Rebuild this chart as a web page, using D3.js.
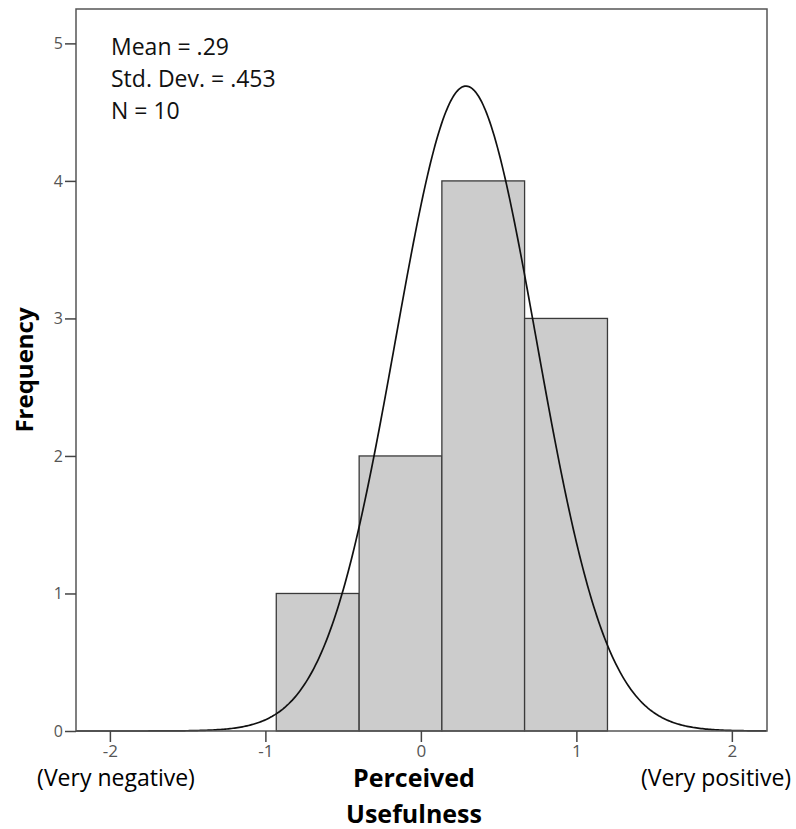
<!DOCTYPE html>
<html>
<head>
<meta charset="utf-8">
<script src="https://cdn.jsdelivr.net/npm/d3@7"></script>
<style>
	body { margin: 0; background: #fff; }
	svg text { font-family: "Open Sans", Lato, sans-serif; }
</style>
</head>
<body>
<svg id="chart" width="796" height="829"></svg>
<script>
// histogram bins (lower / upper edge) and their counts
var binLow = [-0.93, -0.397, 0.135, 0.667];
var binHigh = [-0.397, 0.135, 0.667, 1.2];
var counts = [1, 2, 4, 3];

var xTicks = [-2, -1, 0, 1, 2];
var yTicks = [0, 1, 2, 3, 4, 5];

// fitted normal curve parameters (from the stats box)
var mean = 0.29,
	stdDev = 0.453,
	nCases = 10;

var statLines = ["Mean = .29", "Std. Dev. = .453", "N = 10"];

var margin = { top: 9, left: 76, right: 29, bottom: 98 },
	width = 796 - margin.left - margin.right,
	height = 829 - margin.top - margin.bottom;

var svg = d3.select("#chart");
var g = svg.append("g")
	.attr("transform", "translate(" + margin.left + "," + margin.top + ")");

var x = d3.scaleLinear()
	.domain([-2.218, 2.226])
	.range([0, width]);

var y = d3.scaleLinear()
	.domain([0, 5.25])
	.range([height, 0]);

var bins = counts.map(function(c, i) {
	return { x0: binLow[i], x1: binHigh[i], count: c };
});

g.selectAll(".bar")
	.data(bins)
	.enter().append("rect")
	.attr("class", "bar")
	.attr("x", function(d) { return x(d.x0); })
	.attr("y", function(d) { return y(d.count); })
	.attr("width", function(d) { return x(d.x1) - x(d.x0); })
	.attr("height", function(d) { return y(0) - y(d.count); })
	.attr("fill", "#cccccc")
	.attr("stroke", "#3a3a3a")
	.attr("stroke-width", 1.3);

// normal curve scaled to the histogram (N * bin width * density)
var binWidth = d3.mean(bins, function(d) { return d.x1 - d.x0; });
var curveData = d3.range(x.domain()[0], x.domain()[1] + 0.001, 0.01).map(function(v) {
	var z = (v - mean) / stdDev;
	return [v, nCases * binWidth * Math.exp(-0.5 * z * z) / (stdDev * Math.sqrt(2 * Math.PI))];
});

g.append("path")
	.datum(curveData)
	.attr("fill", "none")
	.attr("stroke", "#111")
	.attr("stroke-width", 1.7)
	.attr("d", d3.line()
		.x(function(d) { return x(d[0]); })
		.y(function(d) { return y(d[1]); }));

// frame
g.append("rect")
	.attr("width", width)
	.attr("height", height)
	.attr("fill", "none")
	.attr("stroke", "#555")
	.attr("stroke-width", 1.5);

var yAxis = d3.axisLeft(y)
	.tickValues(yTicks)
	.tickSize(11)
	.tickPadding(2)
	.tickFormat(function(d) { return String(d); });

var yG = g.append("g").call(yAxis);
yG.select(".domain").remove();
yG.selectAll(".tick line").attr("stroke", "#444").attr("stroke-width", 1.5);
yG.selectAll(".tick text")
	.attr("fill", "#555")
	.style("font-size", "16px");

var xAxis = d3.axisBottom(x)
	.tickValues(xTicks)
	.tickSize(11)
	.tickPadding(3)
	.tickFormat(function(d) { return String(d); });

var xG = g.append("g")
	.attr("transform", "translate(0," + height + ")")
	.call(xAxis);
xG.select(".domain").remove();
xG.selectAll(".tick line").attr("stroke", "#444").attr("stroke-width", 1.5);
xG.selectAll(".tick text")
	.attr("fill", "#555")
	.style("font-size", "17px");

// stats box
g.append("g")
	.selectAll("text")
	.data(statLines)
	.enter().append("text")
	.attr("x", 35)
	.attr("y", function(d, i) { return 46 + i * 32; })
	.attr("fill", "#111")
	.style("font-size", "23px")
	.text(function(d) { return d; });

// axis titles
svg.append("text")
	.attr("transform", "translate(33,370) rotate(-90)")
	.attr("text-anchor", "middle")
	.style("font-size", "24px")
	.style("font-weight", "bold")
	.text("Frequency");

svg.append("text")
	.attr("x", 414)
	.attr("y", 787)
	.attr("text-anchor", "middle")
	.style("font-size", "25px")
	.style("font-weight", "bold")
	.text("Perceived");

svg.append("text")
	.attr("x", 414)
	.attr("y", 823)
	.attr("text-anchor", "middle")
	.style("font-size", "25px")
	.style("font-weight", "bold")
	.text("Usefulness");

svg.append("text")
	.attr("x", 116)
	.attr("y", 786)
	.attr("text-anchor", "middle")
	.style("font-size", "23px")
	.text("(Very negative)");

svg.append("text")
	.attr("x", 716)
	.attr("y", 786)
	.attr("text-anchor", "middle")
	.style("font-size", "23px")
	.text("(Very positive)");
</script>
</body>
</html>
